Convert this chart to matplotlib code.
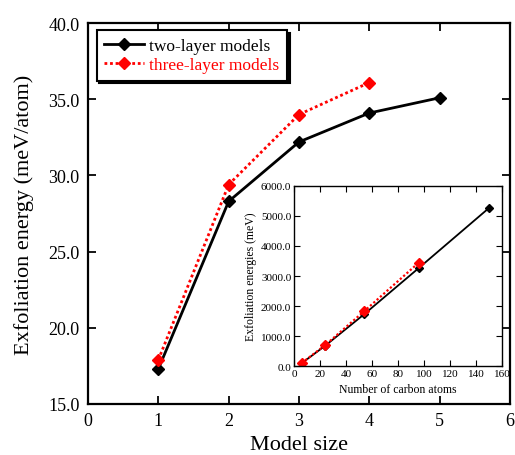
import matplotlib

matplotlib.use("Agg")
import matplotlib.pyplot as plt
from matplotlib.ticker import FormatStrFormatter, MultipleLocator

# main panel: exfoliation energy per atom vs model size
model_size_two = [1, 2, 3, 4, 5]
energy_two = [17.3, 28.3, 32.2, 34.1, 35.1]
model_size_three = [1, 2, 3, 4]
energy_three = [17.9, 29.4, 34.0, 36.1]

# inset: total exfoliation energy vs number of carbon atoms
atoms_two = [6, 24, 54, 96, 150]
total_two = [100, 680, 1730, 3270, 5270]
atoms_three = [6, 24, 54, 96]
total_three = [105, 700, 1830, 3450]

plt.rcParams["font.family"] = ["Liberation Serif", "DejaVu Serif"]


def style_axes(ax, lw):
    for s in ax.spines.values():
        s.set_linewidth(lw)
    ax.tick_params(direction="in", top=True, right=True, width=lw * 0.8)


fig = plt.figure(figsize=(5.15, 4.56), dpi=100)
ax = fig.add_axes([0.171, 0.112, 0.819, 0.835])

ax.plot(model_size_two, energy_two, color="black", lw=2, marker="D", ms=6.5,
        label="two-layer models")
ax.plot(model_size_three, energy_three, color="red", lw=2, ls=(0, (1, 1)),
        marker="D", ms=6.5, label="three-layer models")

ax.set_xlim(0, 6)
ax.set_ylim(15, 40)
ax.xaxis.set_major_locator(MultipleLocator(1))
ax.yaxis.set_major_locator(MultipleLocator(5))
ax.yaxis.set_major_formatter(FormatStrFormatter("%.1f"))
ax.tick_params(labelsize=13, length=6, pad=6)
style_axes(ax, 1.6)
ax.set_xlabel("Model size", fontsize=16, labelpad=4)
ax.set_ylabel("Exfoliation energy (meV/atom)", fontsize=16, labelpad=10)

leg = ax.legend(loc="upper left", bbox_to_anchor=(0.02, 0.982), fontsize=12.5,
                fancybox=False, edgecolor="black", framealpha=1,
                shadow={"color": "black", "alpha": 1}, handlelength=2.3,
                handletextpad=0.3, borderaxespad=0, borderpad=0.45,
                labelspacing=0.15)
leg.get_frame().set_linewidth(1.5)
for txt, col in zip(leg.get_texts(), ["black", "red"]):
    txt.set_color(col)

# inset
ins = fig.add_axes([0.571, 0.195, 0.404, 0.395])
ins.plot(atoms_two, total_two, color="black", lw=1.3, marker="D", ms=4.5)
ins.plot(atoms_three, total_three, color="red", lw=1.6, ls=(0, (1, 1)),
         marker="D", ms=5)
ins.set_xlim(0, 160)
ins.set_ylim(0, 6000)
ins.xaxis.set_major_locator(MultipleLocator(20))
ins.yaxis.set_major_locator(MultipleLocator(1000))
ins.yaxis.set_major_formatter(FormatStrFormatter("%.1f"))
ins.tick_params(labelsize=8, length=4, pad=2)
style_axes(ins, 1.0)
ins.set_xlabel("Number of carbon atoms", fontsize=8.5, labelpad=4)
ins.set_ylabel("Exfoliation energies (meV)", fontsize=8.5, labelpad=3)

fig.savefig("out.png")
